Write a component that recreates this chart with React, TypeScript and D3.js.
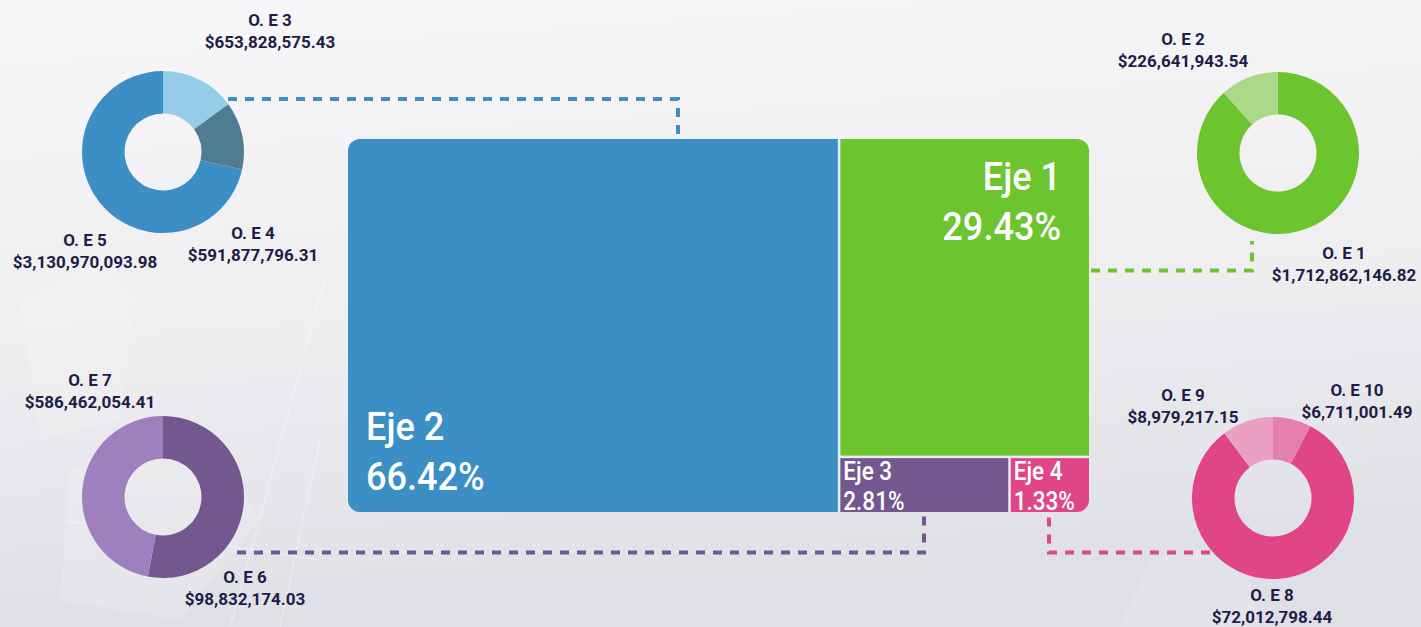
import React from "react";
import * as d3 from "d3";

// ---- data ----
const ejeNames = ["Eje 2", "Eje 1", "Eje 3", "Eje 4"];
const ejePct = [66.42, 29.43, 2.81, 1.33];
// cell areas as drawn in the picture
const ejeCellShare = [66.2, 28.7, 3.44, 1.63];
const ejeColors = ["#3b8fc5", "#6cc52e", "#735890", "#e04686"];

const oeNames = ["O. E 1", "O. E 2", "O. E 3", "O. E 4", "O. E 5", "O. E 6", "O. E 7", "O. E 8", "O. E 9", "O. E 10"];
const oeAmounts = [
  1712862146.82, 226641943.54, 653828575.43, 591877796.31, 3130970093.98,
  98832174.03, 586462054.41, 72012798.44, 8979217.15, 6711001.49,
];
// purple donut slices as drawn (dark O. E 6, light O. E 7)
const purpleShares = [53, 47];

const W = 1421;
const H = 627;
const fmt = d3.format("$,.2f");

const donuts = [
  { eje: "Eje 2", cx: 163, cy: 152, values: [oeAmounts[2], oeAmounts[3], oeAmounts[4]], colors: ["#95cce8", "#507c92", "#3b8fc5"] },
  { eje: "Eje 1", cx: 1278, cy: 153, values: [oeAmounts[0], oeAmounts[1]], colors: ["#6cc52e", "#acd88a"] },
  { eje: "Eje 3", cx: 163, cy: 497, values: purpleShares, colors: ["#735890", "#9d80bd"] },
  { eje: "Eje 4", cx: 1273, cy: 498, values: [oeAmounts[9], oeAmounts[7], oeAmounts[8]], colors: ["#e57fab", "#e04686", "#e9a0c1"] },
];

const labelPos: Record<number, [number, number]> = {
  2: [270, 26],
  4: [85, 246],
  3: [253, 239],
  6: [90, 386],
  5: [245, 583],
  1: [1183, 45],
  0: [1344, 259],
  8: [1183, 401],
  9: [1357, 396],
  7: [1272, 601],
};

const connectors = [
  { color: "#3b8fc5", pts: [[228, 99], [678, 99], [678, 137]] },
  { color: "#6cc52e", pts: [[1091, 270.5], [1252, 270.5], [1252, 241]] },
  { color: "#735890", pts: [[237, 552.5], [924, 552.5], [924, 516]] },
  { color: "#e04686", pts: [[1210, 552.5], [1049, 552.5], [1049, 516]] },
];

const TM = { x: 348, y: 139, w: 741, h: 373, r: 12 };

export default function App() {
  const root = d3
    .hierarchy({ children: ejeNames.map((n, i) => ({ name: n, i, value: ejeCellShare[i] })) } as any)
    .sum((d: any) => d.value || 0);
  d3.treemap().tile(d3.treemapSquarify).size([TM.w, TM.h]).paddingInner(2.5)(root as any);
  const leaves = root.leaves() as any[];

  const arcGen = d3.arc<any>().innerRadius(38.5).outerRadius(81);
  const pie = d3.pie<number>().sort(null).value((d) => d);
  const line = d3.line();

  const bigFont = { fontFamily: "Roboto, sans-serif", fontWeight: 500, fill: "#ffffff" } as const;

  return (
    <svg width={W} height={H} style={{ position: "absolute", left: 0, top: 0, display: "block" }}>
      <defs>
        <linearGradient id="bg" x1="0" y1="0" x2="0.15" y2="1">
          <stop offset="0%" stopColor="#f7f7f9" />
          <stop offset="55%" stopColor="#eeeef1" />
          <stop offset="100%" stopColor="#dfe0e5" />
        </linearGradient>
        <clipPath id="tmclip">
          <rect x={TM.x} y={TM.y} width={TM.w} height={TM.h} rx={TM.r} ry={TM.r} />
        </clipPath>
      </defs>
      <rect x={0} y={0} width={W} height={H} fill="url(#bg)" />
      {/* faint background texture */}
      <g fill="#ffffff" opacity={0.14}>
        <polygon points="20,300 100,265 135,300 120,420 40,440" />
        <polygon points="70,470 200,430 260,520 180,620 60,600" />
        <polygon points="1150,560 1240,540 1260,627 1120,627" opacity={2} />
      </g>
      <g stroke="#ffffff" strokeWidth={1} opacity={0.45} fill="none">
        <line x1={230} y1={627} x2={330} y2={260} />
        <line x1={280} y1={627} x2={320} y2={440} />
        <line x1={60} y1={520} x2={320} y2={560} />
      </g>

      {/* connectors */}
      {connectors.map((c, i) => (
        <path
          key={i}
          d={line(c.pts as [number, number][]) || ""}
          fill="none"
          stroke={c.color}
          strokeWidth={4}
          strokeDasharray="9 8"
        />
      ))}

      {/* treemap */}
      <g clipPath="url(#tmclip)">
        <rect x={TM.x} y={TM.y} width={TM.w} height={TM.h} fill="#e9eef4" />
        {leaves.map((l) => (
          <rect
            key={l.data.name}
            x={TM.x + l.x0}
            y={TM.y + l.y0}
            width={l.x1 - l.x0}
            height={l.y1 - l.y0}
            fill={ejeColors[l.data.i]}
          />
        ))}
      </g>
      {leaves.map((l) => {
        const i = l.data.i;
        const x0 = TM.x + l.x0;
        const x1 = TM.x + l.x1;
        const y0 = TM.y + l.y0;
        const y1 = TM.y + l.y1;
        const pct = ejePct[i].toFixed(2) + "%";
        if (i === 0) {
          return (
            <g key={"t" + i} {...bigFont} fontSize={38}>
              <text transform={`translate(${x0 + 18},${y1 - 72}) scale(0.95,1)`}>{ejeNames[i]}</text>
              <text transform={`translate(${x0 + 18},${y1 - 22}) scale(0.95,1)`}>{pct}</text>
            </g>
          );
        }
        if (i === 1) {
          return (
            <g key={"t" + i} {...bigFont} fontSize={38} textAnchor="end">
              <text transform={`translate(${x1 - 28},${y0 + 51}) scale(0.95,1)`}>{ejeNames[i]}</text>
              <text transform={`translate(${x1 - 28},${y0 + 101}) scale(0.95,1)`}>{pct}</text>
            </g>
          );
        }
        return (
          <g key={"t" + i} {...bigFont} fontSize={25}>
            <text transform={`translate(${x0 + 3},${y0 + 22}) scale(0.9,1)`}>{ejeNames[i]}</text>
            <text transform={`translate(${x0 + 3},${y1 - 2}) scale(0.9,1)`}>{pct}</text>
          </g>
        );
      })}

      {/* donuts */}
      {donuts.map((dn) => (
        <g key={dn.eje} transform={`translate(${dn.cx},${dn.cy})`}>
          {pie(dn.values).map((a, j) => (
            <path key={j} d={arcGen(a) || ""} fill={dn.colors[j]} />
          ))}
        </g>
      ))}

      {/* labels */}
      <g fontFamily="Roboto, sans-serif" fontWeight={700} fontSize={17} fill="#1f1d48" textAnchor="middle">
        {oeNames.map((n, i) => {
          const [x, y] = labelPos[i];
          return (
            <g key={n}>
              <text x={x} y={y}>{n}</text>
              <text x={x} y={y + 22}>{fmt(oeAmounts[i])}</text>
            </g>
          );
        })}
      </g>
    </svg>
  );
}
